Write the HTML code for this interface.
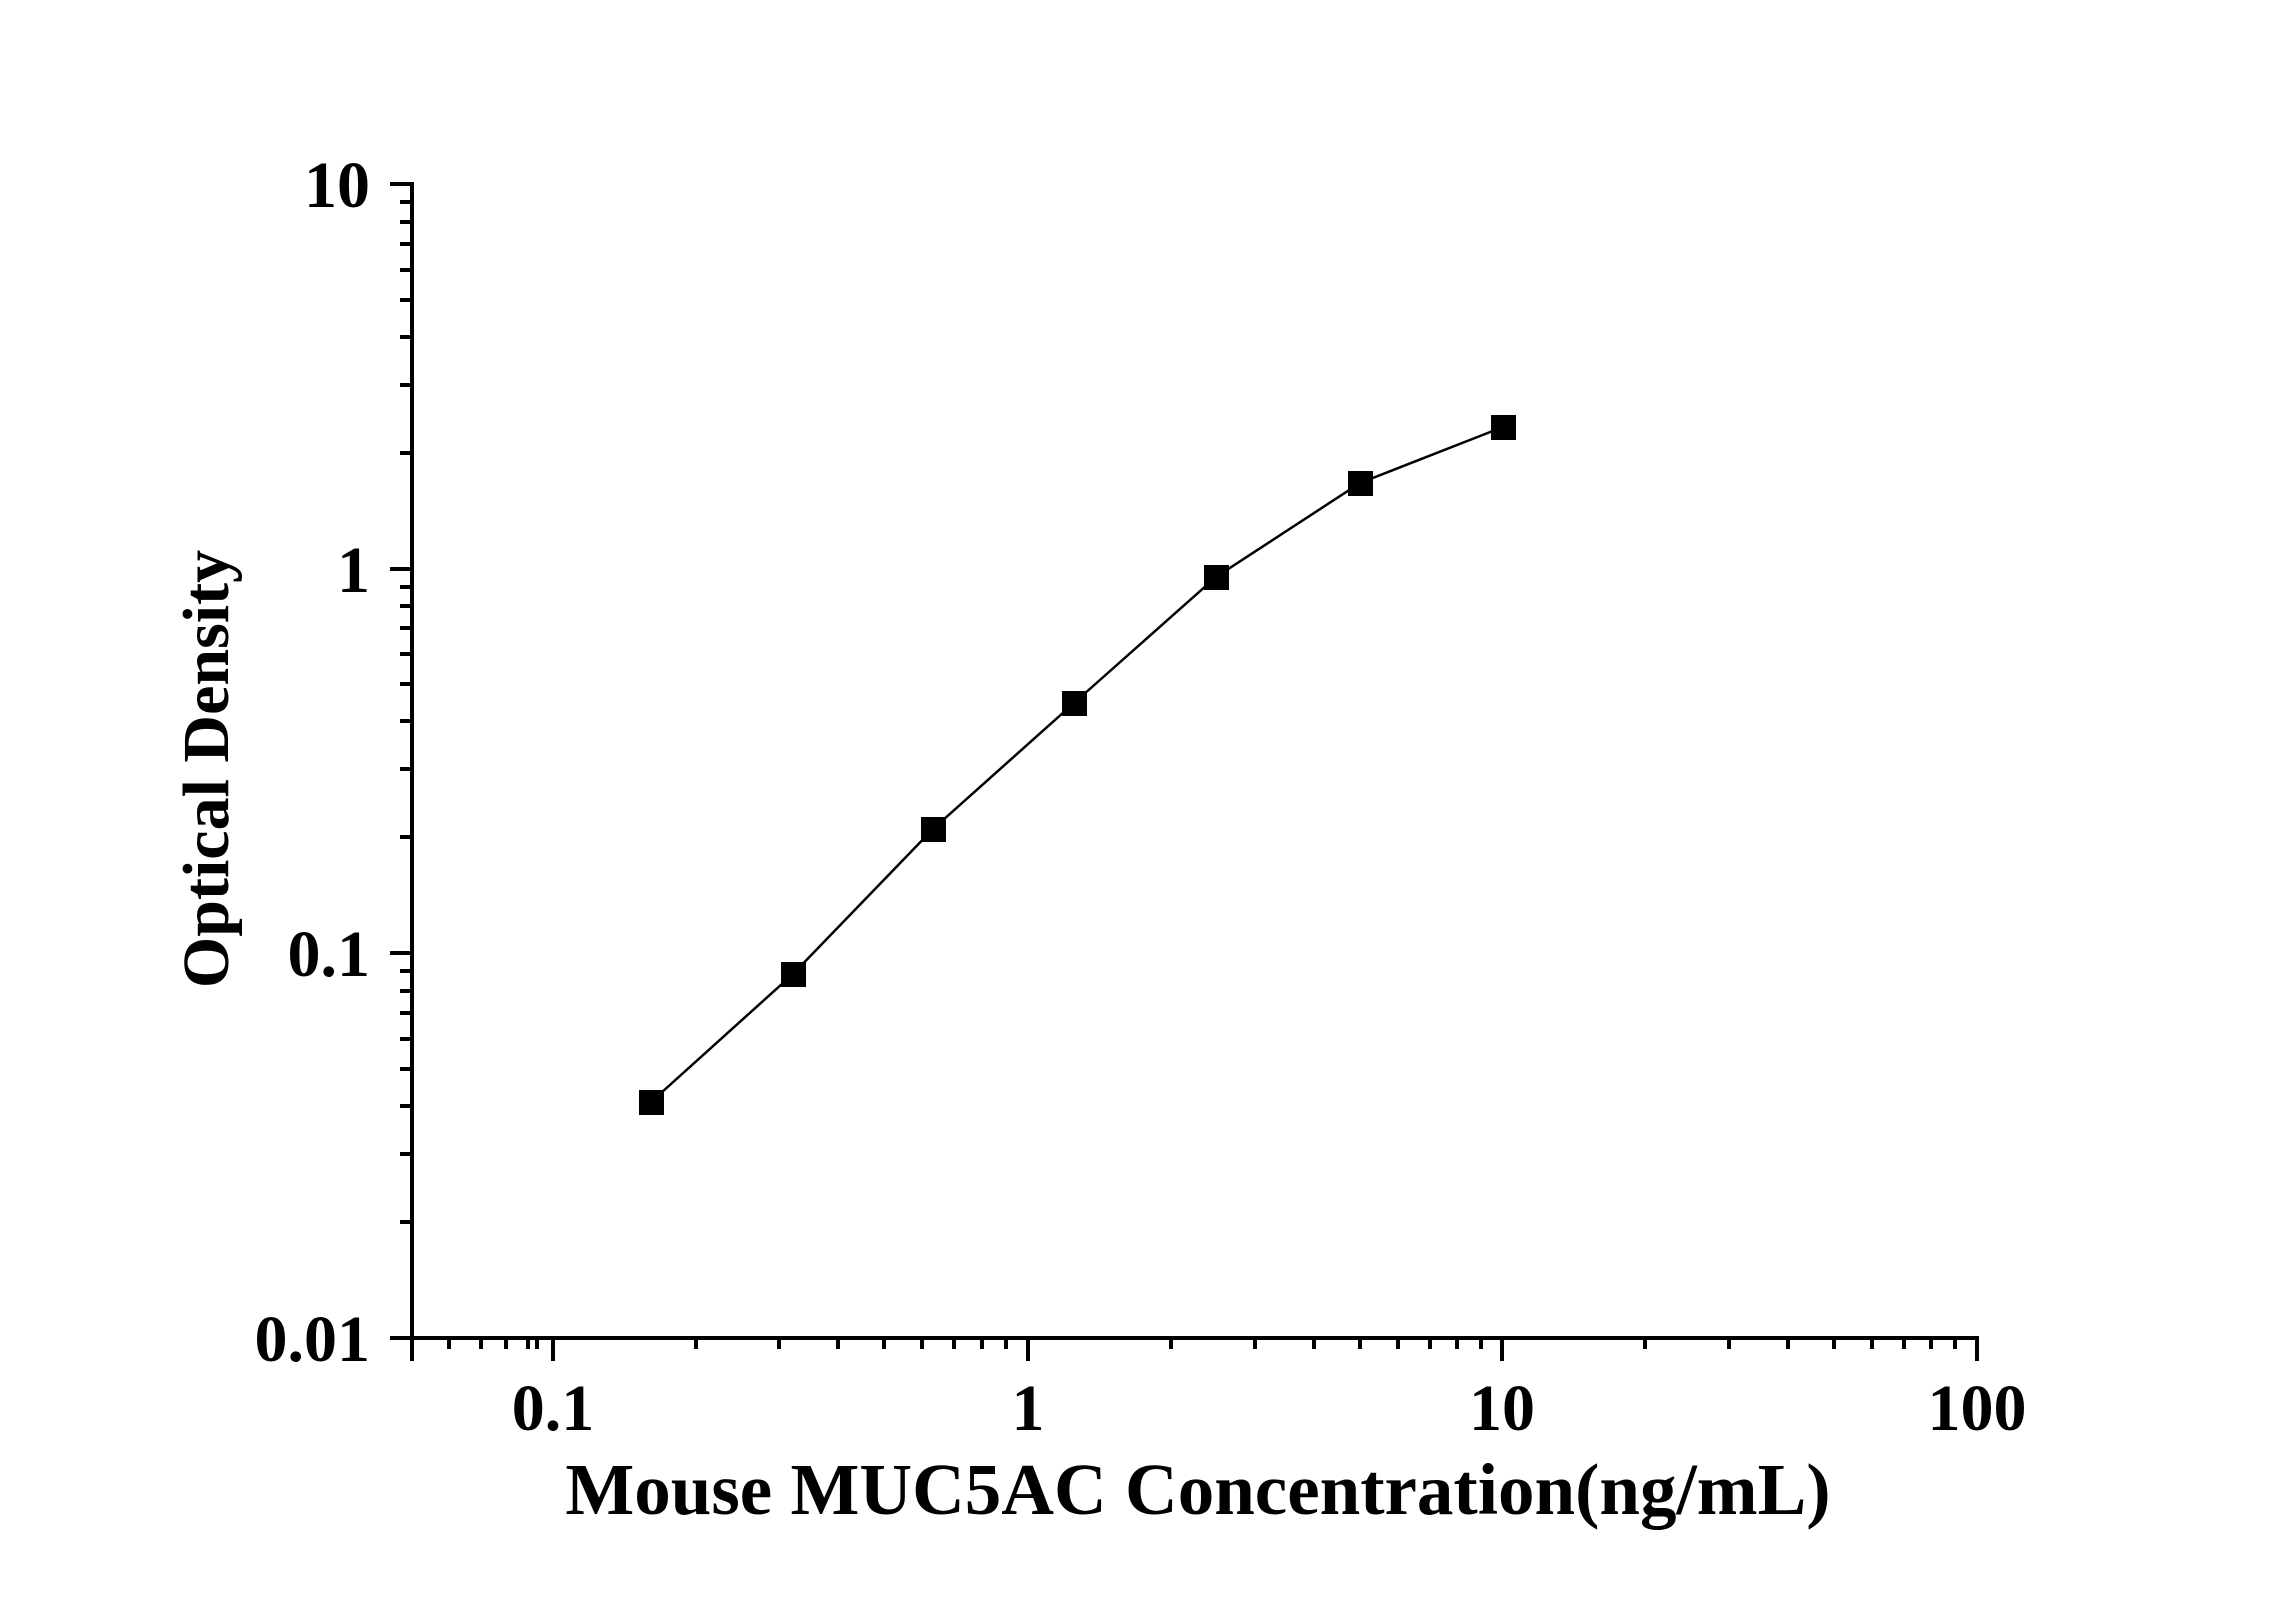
<!DOCTYPE html>
<html><head><style>body{margin:0;background:#fff}</style></head><body>
<svg width="2296" height="1604" xmlns="http://www.w3.org/2000/svg" font-family="Liberation Serif, serif" font-weight="bold">
<g stroke="#000" stroke-width="4" fill="none">
<line x1="412" y1="182" x2="412" y2="1340"/>
<line x1="410" y1="1338" x2="1979" y2="1338"/>
<line x1="390" y1="184" x2="412" y2="184"/><line x1="390" y1="569" x2="412" y2="569"/>
<line x1="390" y1="953" x2="412" y2="953"/><line x1="390" y1="1338" x2="412" y2="1338"/>
<line x1="553" y1="1338" x2="553" y2="1361"/><line x1="1028" y1="1338" x2="1028" y2="1361"/>
<line x1="1502" y1="1338" x2="1502" y2="1361"/><line x1="1977" y1="1336" x2="1977" y2="1361"/>
<line x1="412" y1="1338" x2="412" y2="1361"/>
</g>
<g stroke="#000" stroke-width="4">
<path d="M400 1222H412M400 1154H412M400 1106H412M400 1069H412M400 1039H412M400 1013H412M400 991H412M400 971H412
M400 837H412M400 769H412M400 721H412M400 684H412M400 654H412M400 628H412M400 606H412M400 587H412
M400 453H412M400 385H412M400 337H412M400 300H412M400 270H412M400 244H412M400 222H412M400 202H412"/>
<path d="M449 1338V1349M481 1338V1349M506 1338V1349M528 1338V1349M537 1338V1349
M696 1338V1349M779 1338V1349M838 1338V1349M884 1338V1349M922 1338V1349M954 1338V1349M982 1338V1349M1006 1338V1349
M1171 1338V1349M1255 1338V1349M1314 1338V1349M1360 1338V1349M1398 1338V1349M1430 1338V1349M1457 1338V1349M1481 1338V1349
M1645 1338V1349M1729 1338V1349M1788 1338V1349M1834 1338V1349M1872 1338V1349M1904 1338V1349M1931 1338V1349M1955 1338V1349"/>
</g>
<polyline fill="none" stroke="#000" stroke-width="2.5" points="651,1102 793,974 933,829 1074,703 1216,577 1360,483 1503,427"/>
<g fill="#000">
<rect x="639" y="1090" width="25" height="25"/><rect x="781" y="962" width="25" height="25"/>
<rect x="921" y="817" width="25" height="25"/><rect x="1062" y="691" width="25" height="25"/>
<rect x="1204" y="565" width="25" height="25"/><rect x="1348" y="471" width="25" height="25"/>
<rect x="1491" y="415" width="25" height="25"/>
</g>
<g font-size="66" text-anchor="end">
<text x="370" y="207">10</text><text x="370" y="592">1</text>
<text x="370" y="976">0.1</text><text x="370" y="1361">0.01</text>
</g>
<g font-size="66" text-anchor="middle">
<text x="553" y="1430">0.1</text><text x="1028" y="1430">1</text>
<text x="1502" y="1430">10</text><text x="1977" y="1430">100</text>
</g>
<text x="1198" y="1514" font-size="73" text-anchor="middle">Mouse MUC5AC Concentration(ng/mL)</text>
<text transform="translate(228,769) rotate(-90)" font-size="66" text-anchor="middle">Optical Density</text>
</svg>
</body></html>
